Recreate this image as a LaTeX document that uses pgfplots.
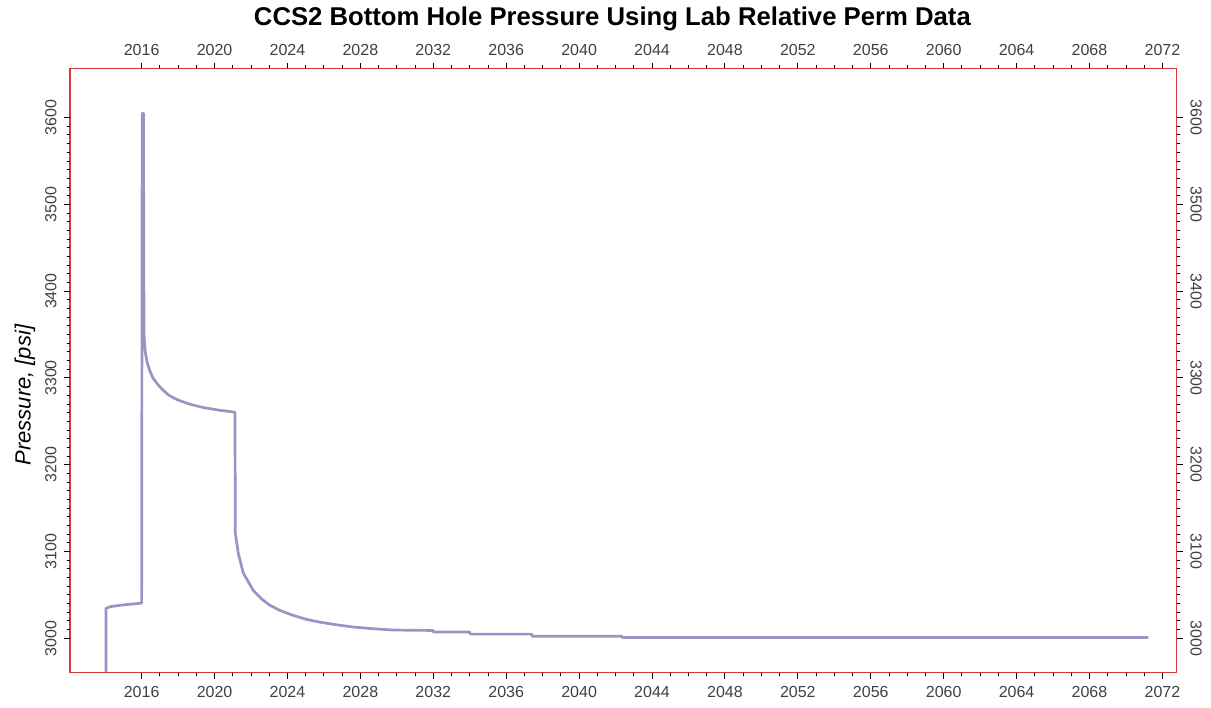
\documentclass[border=0pt]{standalone}
\usepackage{pgfplots}
\pgfplotsset{compat=1.18}
\usepackage{fontspec}
\setmainfont{Liberation Sans}
\definecolor{curve}{RGB}{150,150,196}
\definecolor{axred}{RGB}{215,55,55}
\begin{document}
\begin{tikzpicture}
\path[use as bounding box] (-70pt,-35pt) rectangle (1141pt,673pt);
\pgfplotsset{
  common/.style={
    scale only axis, width=1107pt, height=604pt,
    at={(0pt,0pt)}, anchor=south west,
    xmin=2012.07, xmax=2072.8, ymin=2960, ymax=3656,
    xtick={2016,2020,...,2072}, minor x tick num=3,
    ytick={3000,3100,...,3600}, minor y tick num=9,
    tick align=outside,
    major tick length=6pt, minor tick length=3.5pt,
    tick style={black, line width=0.9pt},
    axis line style={axred, line width=1pt},
    xticklabel shift=4pt, yticklabel shift=4pt,
    /pgf/number format/assume math mode=true,
    /pgf/number format/1000 sep={},
    tick label style={font=\fontsize{16}{16}\selectfont, text=black!75},
  }
}
\begin{axis}[common,
  xtick pos=both, ytick pos=both,
  xticklabel pos=lower, yticklabel pos=left,
  yticklabel style={rotate=90, anchor=south},
  ylabel={\itshape Pressure, [psi]},
  ylabel style={at={(axis description cs:-0.0407,0.46)}, anchor=center, font=\fontsize{22}{22}\selectfont},
  clip=true,
]
\addplot[curve, line width=2.7pt, line join=round] coordinates {
(2014.04,2950) (2014.04,3034.5) (2014.3,3036.5) (2015.0,3038.5) (2016.0,3040.5)
(2016.03,3605) (2016.10,3605) (2016.13,3350) (2016.2,3330) (2016.3,3318)
(2016.45,3308) (2016.62,3300) (2016.9,3292) (2017.17,3286) (2017.5,3280)
(2017.94,3275) (2018.6,3270) (2019.36,3266) (2020.2,3263) (2021.12,3260.5)
(2021.14,3121) (2021.3,3098) (2021.58,3075) (2022.13,3055) (2022.6,3045)
(2023.04,3038) (2023.6,3032) (2024.3,3026.5) (2025.0,3022) (2025.79,3018.5)
(2026.7,3015.5) (2027.6,3013) (2028.7,3011) (2029.79,3009.5) (2031.99,3009)
(2032.0,3007.3) (2034.0,3007.3) (2034.02,3004.8) (2037.4,3004.8) (2037.42,3002.4)
(2042.35,3002.4) (2042.36,3001) (2071.23,3001)
};
\end{axis}
\begin{axis}[common,
  xtick pos=both, ytick pos=both,
  xticklabel pos=upper, yticklabel pos=right,
  yticklabel style={rotate=-90, anchor=south},
  title={CCS2 Bottom Hole Pressure Using Lab Relative Perm Data},
  title style={at={(axis description cs:0.49,1)}, anchor=center, yshift=44pt, font=\fontsize{25.7}{26}\selectfont\bfseries},
]
\end{axis}
\end{tikzpicture}
\end{document}
